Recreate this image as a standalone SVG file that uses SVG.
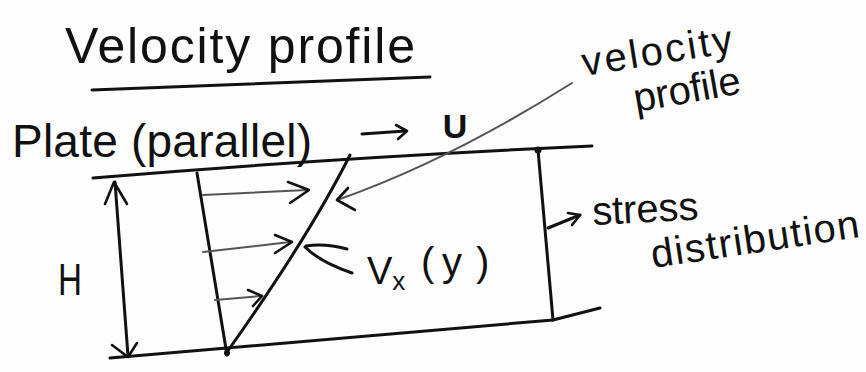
<svg xmlns="http://www.w3.org/2000/svg" width="866" height="372" viewBox="0 0 866 372">
<style>
.ink{fill:none;stroke:#111;stroke-width:3;stroke-linecap:round;stroke-linejoin:round}
.thin{fill:none;stroke:#555;stroke-width:2;stroke-linecap:round}
.head{fill:none;stroke:#111;stroke-width:2.6;stroke-linecap:round;stroke-linejoin:round}
.txt{font-family:"Liberation Sans",Arial,sans-serif;fill:#111}
</style>
<rect width="866" height="372" fill="#fdfdfd"/>
<g id="title">
<text class="txt" x="65" y="63" font-size="50" textLength="350" lengthAdjust="spacing">Velocity profile</text>
<path class="ink" d="M92,90 L430,77" stroke-width="2.5"/>
</g>
<g id="plate-label">
<text class="txt" x="12" y="157" font-size="46" textLength="300" lengthAdjust="spacing">Plate (parallel)</text>
</g>
<g id="plate-velocity">
<path class="ink" d="M362,134 L405,131" stroke-width="2.5"/>
<path class="head" d="M396,125 L407,131 L398,139"/>
<text class="txt" x="455" y="138" font-size="34" font-weight="bold" text-anchor="middle">U</text>
</g>
<g id="plates">
<path class="ink" d="M93,178 Q330,158 592,146"/>
<path class="ink" d="M110,358 Q330,340 553,320 L600,308"/>
<path class="ink" d="M538,150 L553,320"/>
<circle cx="538" cy="150" r="3.5" fill="#111"/>
</g>
<g id="height">
<path class="ink" d="M115,182 L128,356"/>
<path class="head" d="M105,204 L114,182 L127,204"/>
<path class="head" d="M112,345 L128,357 L137,343"/>
<text class="txt" x="58" y="295" font-size="44" textLength="24" lengthAdjust="spacingAndGlyphs">H</text>
</g>
<g id="profile">
<path class="ink" d="M197,173 L227,355"/>
<path class="ink" d="M227,352 Q310,235 350,155" stroke-width="2.6"/>
<circle cx="227" cy="353" r="3" fill="#111"/>
</g>
<g id="velocity-arrows">
<path class="thin" d="M203,195 L307,190"/>
<path class="head" d="M288,182 L309,190 L290,203"/>
<path class="thin" d="M203,252 L290,242"/>
<path class="head" d="M275,235 L292,242 L275,253"/>
<path class="thin" d="M215,300 L261,296"/>
<path class="head" d="M248,290 L262,296 L253,306"/>
</g>
<g id="connectors">
<path class="thin" d="M572,83 Q450,160 340,199" stroke-width="1.6"/>
<path class="head" d="M348,188 L337,200 L355,210"/>
<path class="ink" d="M347,249 Q325,243 306,246" stroke-width="2.4"/>
<path class="ink" d="M352,273 Q320,262 305,247" stroke-width="2.4"/>
<path class="ink" d="M548,228 L580,215" stroke-width="2.4"/>
<path class="head" d="M568,213 L580,215 L572,225"/>
</g>
<g id="vx-label">
<text class="txt" x="367" y="284" font-size="38">V<tspan font-size="26" dy="6">x</tspan></text>
<text class="txt" y="276" font-size="40"><tspan x="421">(</tspan><tspan x="442">y</tspan><tspan x="476">)</tspan></text>
</g>
<g id="stress-label">
<text class="txt" x="593" y="225" font-size="40" textLength="106" lengthAdjust="spacing" transform="rotate(-3,593,225)">stress</text>
<text class="txt" x="653" y="268" font-size="40" textLength="210" lengthAdjust="spacing" transform="rotate(-8.5,653,268)">distribution</text>
</g>
<g id="profile-label">
<text class="txt" x="584" y="76" font-size="40" textLength="152" lengthAdjust="spacing" transform="rotate(-9,584,76)">velocity</text>
<text class="txt" x="636" y="112" font-size="40" textLength="108" lengthAdjust="spacing" transform="rotate(-10,636,112)">profile</text>
</g>
</svg>
